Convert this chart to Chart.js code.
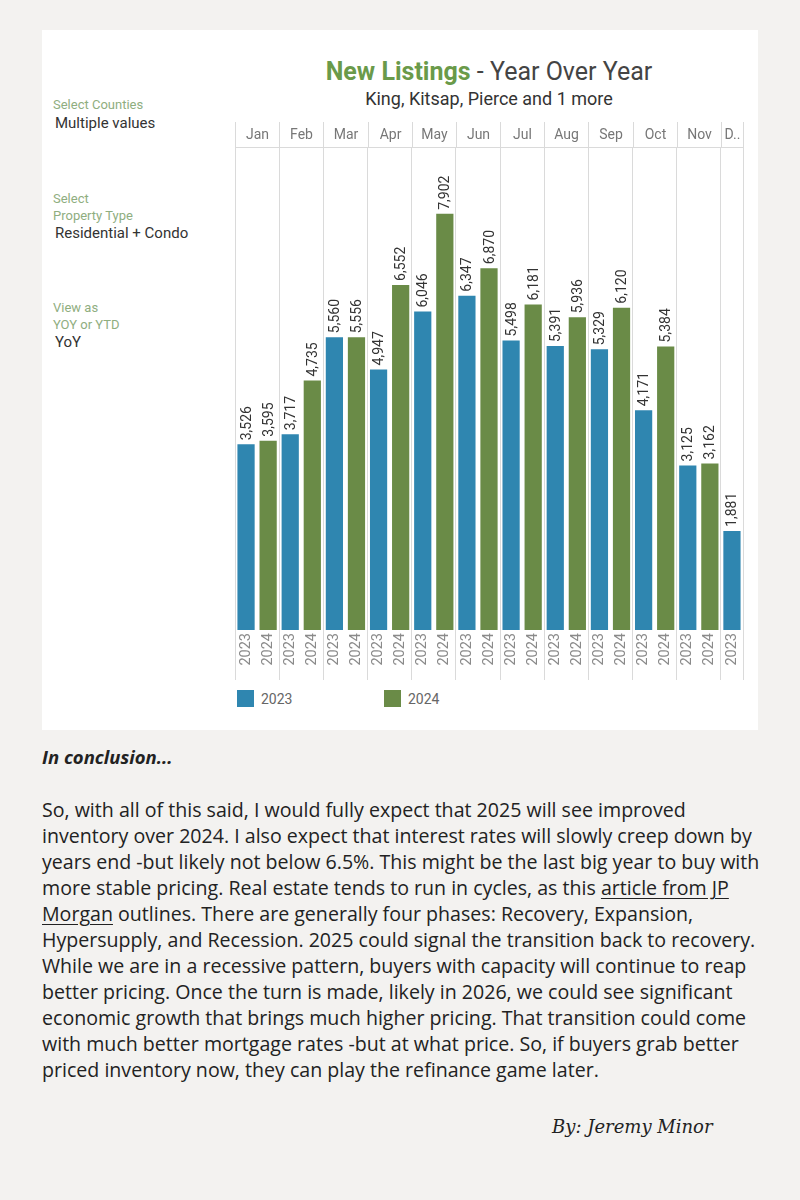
<!DOCTYPE html>
<html>
<head>
<meta charset="utf-8">
<script src="https://cdn.jsdelivr.net/npm/chart.js@4"></script>
<style>
  html, body { margin: 0; padding: 0; }
  body { width: 800px; height: 1200px; background: #f3f2f0; position: relative; font-family: Roboto, sans-serif; overflow: hidden; }
  #panel { position: absolute; left: 42px; top: 30px; width: 716px; height: 700px; background: #fff; }
  #chartBox { position: absolute; left: 0; top: 0; width: 716px; height: 650px; }
  .abs { position: absolute; white-space: nowrap; }
  .title { left: 193px; width: 508px; text-align: center; top: 27px; font-size: 25px; color: #444; }
  .title b { color: #6a9a4a; }
  .subtitle { left: 193px; width: 508px; text-align: center; top: 58px; font-size: 18px; color: #333; }
  .flt { left: 11px; font-size: 13px; color: #8fae7f; }
  .val { left: 13px; font-size: 15px; color: #333; }
  #legend { position: absolute; left: 195px; top: 660px; font-size: 14px; color: #666; }
  #legend span.item { position: absolute; top: 0; display: flex; align-items: center; }
  #legend i { display: inline-block; width: 17px; height: 17px; margin-right: 7px; }
  #text { position: absolute; left: 42px; top: 744px; width: 740px; font-family: "Open Sans", sans-serif; color: #222; }
  #text .head { font-weight: 700; font-style: italic; font-size: 18.5px; line-height: 26px; }
  #text .body { margin-top: 27px; font-size: 19.6px; line-height: 26px; }
  #text .body div { white-space: nowrap; }
  #text u { text-underline-offset: 3px; }
  #sign { position: absolute; left: 552px; top: 1116px; font-family: "DejaVu Serif", serif; font-style: italic; font-size: 18px; color: #222; }
</style>
</head>
<body>
<div id="panel">
  <div class="abs title"><b>New Listings</b> - Year Over Year</div>
  <div class="abs subtitle">King, Kitsap, Pierce and 1 more</div>

  <div class="abs flt" style="top:67px">Select Counties</div>
  <div class="abs val" style="top:84px">Multiple values</div>
  <div class="abs flt" style="top:161px">Select</div>
  <div class="abs flt" style="top:178px">Property Type</div>
  <div class="abs val" style="top:194px">Residential + Condo</div>
  <div class="abs flt" style="top:270px">View as</div>
  <div class="abs flt" style="top:287px">YOY or YTD</div>
  <div class="abs val" style="top:303px">YoY</div>

  <div id="chartBox"><canvas id="chart"></canvas></div>
  <div id="legend"></div>
</div>

<div id="text">
  <div class="head">In conclusion...</div>
  <div class="body">
    <div>So, with all of this said, I would fully expect that 2025 will see improved</div>
    <div>inventory over 2024. I also expect that interest rates will slowly creep down by</div>
    <div>years end -but likely not below 6.5%. This might be the last big year to buy with</div>
    <div>more stable pricing. Real estate tends to run in cycles, as this <u>article from JP</u></div>
    <div><u>Morgan</u> outlines. There are generally four phases: Recovery, Expansion,</div>
    <div>Hypersupply, and Recession. 2025 could signal the transition back to recovery.</div>
    <div>While we are in a recessive pattern, buyers with capacity will continue to reap</div>
    <div>better pricing. Once the turn is made, likely in 2026, we could see significant</div>
    <div>economic growth that brings much higher pricing. That transition could come</div>
    <div>with much better mortgage rates -but at what price. So, if buyers grab better</div>
    <div>priced inventory now, they can play the refinance game later.</div>
  </div>
</div>
<div id="sign">By: Jeremy Minor</div>

<script>
// New listings per month, King/Kitsap/Pierce +1
const months = ['Jan', 'Feb', 'Mar', 'Apr', 'May', 'Jun', 'Jul', 'Aug', 'Sep', 'Oct', 'Nov', 'Dec'];
const years = ['2023', '2024'];
const listings2023 = [3526, 3717, 5560, 4947, 6046, 6347, 5498, 5391, 5329, 4171, 3125, 1881];
const listings2024 = [3595, 4735, 5556, 6552, 7902, 6870, 6181, 5936, 6120, 5384, 3162];

const colors = ['#2f86b0', '#6a8b47'];
const gridColor = '#dadada';

// one slot per bar, years side by side inside each month
const labels = [];
const data2023 = [];
const data2024 = [];
const monthSlots = [];
months.forEach((m, i) => {
    const start = labels.length;
    labels.push(years[0]);
    data2023.push(listings2023[i]);
    data2024.push(null);
    if (listings2024[i] !== undefined) {
        labels.push(years[1]);
        data2023.push(null);
        data2024.push(listings2024[i]);
    }
    monthSlots.push([start, labels.length - 1]);
});

// month header row above the plot
const monthHeader = {
    id: 'monthHeader',
    afterDraw(chart) {
        const { ctx, chartArea, scales: { x } } = chart;
        const half = (x.getPixelForValue(1) - x.getPixelForValue(0)) / 2;
        const top = chartArea.top - 25;
        ctx.save();
        ctx.strokeStyle = gridColor;
        ctx.lineWidth = 1;
        ctx.beginPath();
        ctx.moveTo(chartArea.left, chartArea.top + 0.5);
        ctx.lineTo(chartArea.right, chartArea.top + 0.5);
        ctx.stroke();
        ctx.font = '14px Roboto';
        ctx.fillStyle = '#777';
        ctx.textAlign = 'center';
        ctx.textBaseline = 'middle';
        monthSlots.forEach(([a, b], i) => {
            const left = Math.round(x.getPixelForValue(a) - half) + 0.5;
            const right = Math.round(x.getPixelForValue(b) + half) + 0.5;
            ctx.beginPath();
            ctx.moveTo(left, top);
            ctx.lineTo(left, chartArea.top);
            if (i === monthSlots.length - 1) {
                ctx.moveTo(right, top);
                ctx.lineTo(right, chartArea.top);
            }
            ctx.stroke();
            let name = months[i];
            if (ctx.measureText(name).width > right - left - 4) name = name[0] + '..';
            ctx.fillText(name, (left + right) / 2, chartArea.top - 12);
        });
        ctx.restore();
    }
};

// rotated value labels on top of each bar
const barValues = {
    id: 'barValues',
    afterDatasetsDraw(chart) {
        const { ctx } = chart;
        ctx.save();
        ctx.font = '14px Roboto';
        ctx.fillStyle = '#333';
        ctx.textAlign = 'left';
        ctx.textBaseline = 'middle';
        chart.data.datasets.forEach((ds, i) => {
            chart.getDatasetMeta(i).data.forEach((bar, j) => {
                const v = ds.data[j];
                if (v == null) return;
                ctx.save();
                ctx.translate(bar.x + 1, bar.y - 4);
                ctx.rotate(-Math.PI / 2);
                ctx.fillText(v.toLocaleString('en-US'), 0, 0);
                ctx.restore();
            });
        });
        ctx.restore();
    }
};

const chart = new Chart(document.getElementById('chart'), {
    type: 'bar',
    data: {
        labels: labels,
        datasets: [
            { label: years[0], data: data2023, backgroundColor: colors[0] },
            { label: years[1], data: data2024, backgroundColor: colors[1] }
        ]
    },
    options: {
        responsive: true,
        maintainAspectRatio: false,
        animation: false,
        layout: { padding: { left: 193, right: 15, top: 117, bottom: 0 } },
        datasets: { bar: { grouped: false, barPercentage: 0.78, categoryPercentage: 1 } },
        scales: {
            x: {
                offset: true,
                border: { display: false },
                grid: {
                    offset: true,
                    tickLength: 50,
                    color: c => (c.index === undefined || c.index % 2 === 0) ? gridColor : 'rgba(0,0,0,0)'
                },
                ticks: {
                    autoSkip: false,
                    minRotation: 90,
                    maxRotation: 90,
                    padding: -47,
                    color: '#8a8a8a',
                    font: { family: 'Roboto', size: 14.5 }
                },
                afterFit: s => { s.height = 50; }
            },
            y: { display: false, min: 0, max: 9170 }
        },
        plugins: {
            legend: { display: false },
            tooltip: { enabled: false }
        }
    },
    plugins: [monthHeader, barValues]
});

// legend in the Tableau style, left aligned with wide spacing
const legendEl = document.getElementById('legend');
chart.data.datasets.forEach((ds, i) => {
    const item = document.createElement('span');
    item.className = 'item';
    item.style.left = (i * 147) + 'px';
    item.innerHTML = '<i style="background:' + ds.backgroundColor + '"></i>' + ds.label;
    legendEl.appendChild(item);
});
</script>
</body>
</html>
